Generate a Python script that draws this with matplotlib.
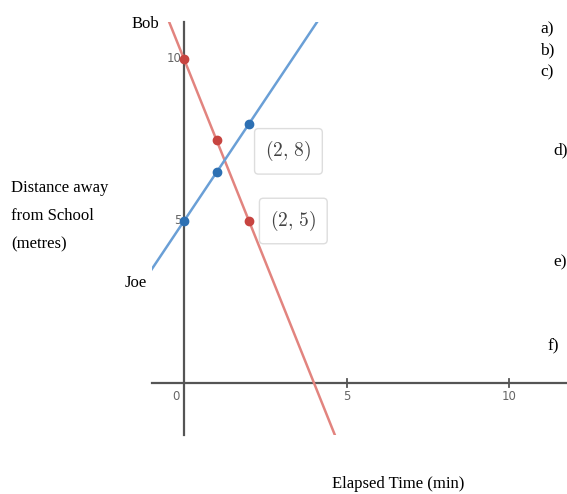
import matplotlib.pyplot as plt
from matplotlib.patches import Rectangle
import numpy as np

# elapsed time (min) and distance from school (metres)
time = [0, 1, 2]
bob = [10, 7.5, 5]
joe = [5, 6.5, 8]

x_ticks = [5, 10]
y_ticks = [5, 10]

W, H = 567, 494
plt.rcParams['mathtext.fontset'] = 'cm'


def fx(px):
    return px / W


def fy(py):
    return 1 - py / H


fig = plt.figure(figsize=(W / 100, H / 100), dpi=100)
ax = fig.add_axes([0, 0, 1, 1])
# pixel scale of the graph: origin at (184, 383), ~32.5 px per unit
ox, oy, sx, sy = 184, 383, 32.5, 32.4
ax.set_xlim(-ox / sx, (W - ox) / sx)
ax.set_ylim(-(H - oy) / sy, oy / sy)
ax.axis('off')

gx0, gx1 = -0.98, (W - ox) / sx
gy0, gy1 = -1.6, 11.14
clip = Rectangle((gx0, gy0), gx1 - gx0, gy1 - gy0, transform=ax.transData)

# axes
ax.plot([gx0, gx1], [0, 0], color='#555555', lw=1.6)
ax.plot([0, 0], [gy0, gy1], color='#555555', lw=1.6)
for t in x_ticks:
    ax.plot([t, t], [-0.12, 0.12], color='#555555', lw=1.3)
    ax.text(t, -0.22, str(t), ha='center', va='top', fontsize=8.5, color='#666666')
ax.text(-0.12, -0.22, '0', ha='right', va='top', fontsize=8.5, color='#666666')
for t in y_ticks:
    ax.text(-0.08, t, str(t), ha='right', va='center', fontsize=8.5, color='#666666')

xs = np.linspace(-2, 6, 50)
for ys, lc, mc in [(bob, '#e2847f', '#c74440'), (joe, '#6a9fd6', '#2d70b3')]:
    m, b = np.polyfit(time, ys, 1)
    ln, = ax.plot(xs, m * xs + b, color=lc, lw=1.8, zorder=3)
    ln.set_clip_path(clip)
    ax.plot(time, ys, 'o', color=mc, ms=6, zorder=4)

box = dict(boxstyle='round,pad=0.55,rounding_size=0.2', fc='white',
           ec='#dddddd', lw=1)
ax.text(time[2] + 0.5, joe[2] - 0.85, r'$(2,\,8)$', fontsize=14, color='#444444',
        va='center', ha='left', bbox=box)
ax.text(time[2] + 0.65, bob[2] + 0.0, r'$(2,\,5)$', fontsize=14, color='#444444',
        va='center', ha='left', bbox=box)

serif = 'Liberation Serif'
fig.text(fx(132), fy(24), 'Bob', fontsize=12, family=serif, va='center')
fig.text(fx(125), fy(283), 'Joe', fontsize=12, family=serif, va='center')
for i, s in enumerate(['Distance away', 'from School', '(metres)']):
    fig.text(fx(11), fy(188 + 28 * i), s, fontsize=12, family=serif, va='center')
fig.text(fx(332), fy(484), 'Elapsed Time (min)', fontsize=12, family=serif, va='center')
for s, px, py in [('a)', 540, 29), ('b)', 540, 50), ('c)', 540, 72),
                  ('d)', 553, 150), ('e)', 553, 262), ('f)', 548, 346)]:
    fig.text(fx(px), fy(py), s, fontsize=12.5, family=serif, va='center')

fig.savefig('out.png', dpi=100)
